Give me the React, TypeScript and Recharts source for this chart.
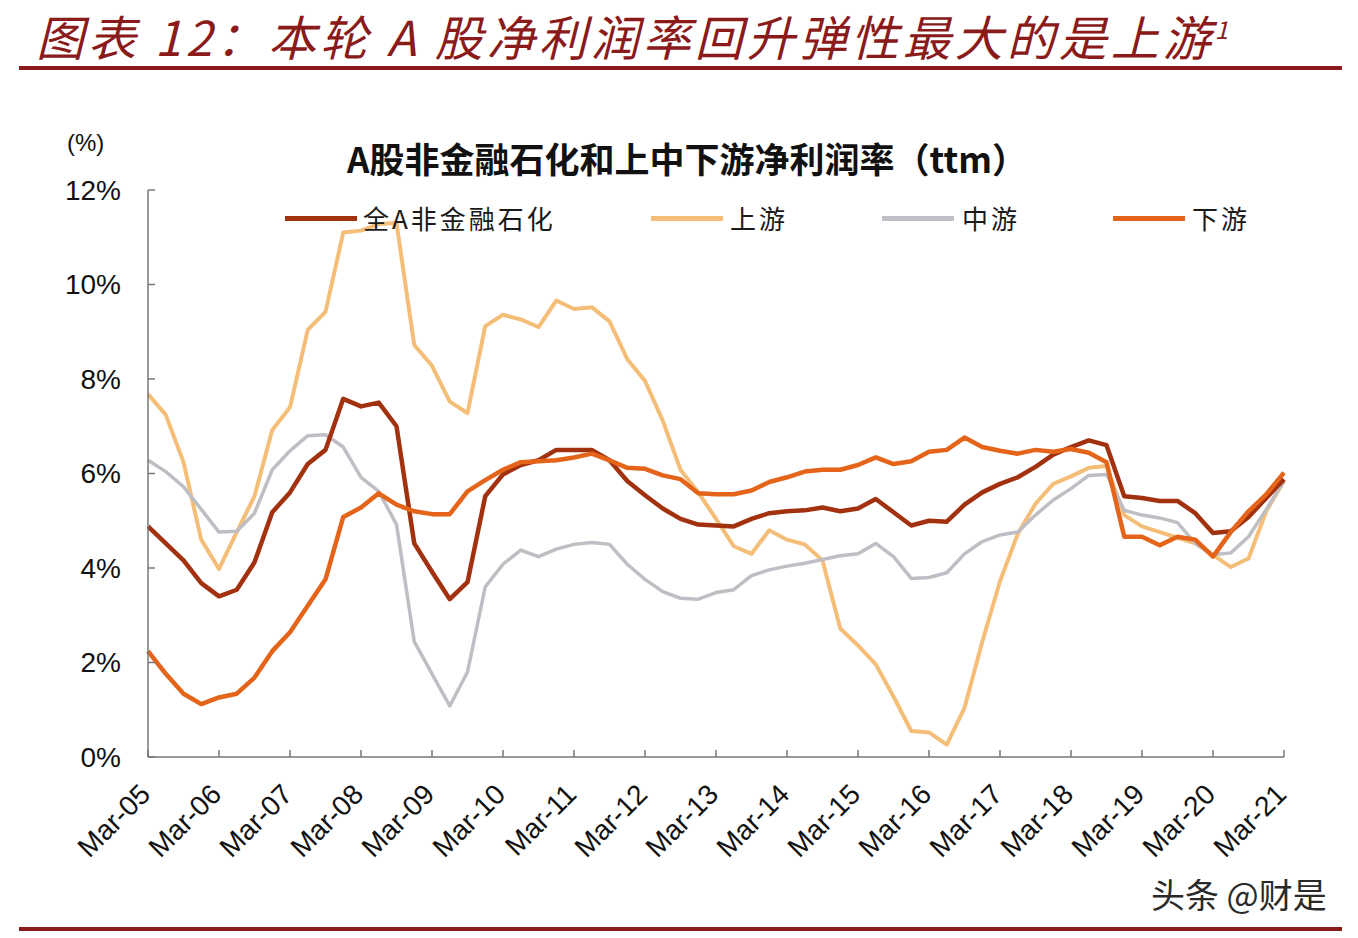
import React from 'react';
import { LineChart, Line, XAxis, YAxis, Legend } from 'recharts';

const YEARS = ['05','06','07','08','09','10','11','12','13','14','15','16','17','18','19','20','21'];
const QUARTERS = ['Mar','Jun','Sep','Dec'];
const CATEGORIES: string[] = YEARS.flatMap((y) => QUARTERS.map((q) => `${q}-${y}`)).slice(0, 65);

const ALL_A = [
  4.88,4.52,4.16,3.68,3.4,3.54,4.12,5.18,5.6,6.2,
  6.5,7.58,7.42,7.5,7.0,4.52,3.92,3.34,3.7,5.52,
  5.98,6.18,6.28,6.5,6.5,
  6.5,6.28,5.84,5.54,5.26,5.04,4.92,4.9,4.88,5.04,
  5.16,5.2,5.22,5.28,5.2,5.26,5.46,5.18,4.9,5.0,
  4.98,5.34,5.6,5.78,
  5.92,6.14,6.4,6.56,6.7,6.6,5.52,5.48,5.42,5.42,
  5.16,4.74,4.78,5.08,5.48,5.88,
];
const UPSTREAM = [
  7.68,7.24,6.24,4.6,3.98,4.76,5.52,6.92,7.4,9.04,
  9.42,11.1,11.14,11.28,11.3,8.72,8.28,7.52,7.28,9.12,
  9.36,9.26,9.1,9.66,9.48,
  9.52,9.22,8.42,7.96,7.12,6.08,5.6,5.04,4.46,4.3,
  4.8,4.6,4.5,4.16,2.72,2.36,1.96,1.28,0.55,0.52,
  0.26,1.04,2.44,3.72,
  4.72,5.36,5.78,5.94,6.12,6.16,5.12,4.88,4.76,4.64,
  4.52,4.28,4.02,4.2,5.2,5.84,
];
const MIDSTREAM = [
  6.28,6.04,5.72,5.24,4.76,4.78,5.16,6.08,6.48,6.8,
  6.82,6.56,5.92,5.62,4.92,2.44,1.76,1.08,1.8,3.6,
  4.08,4.38,4.24,4.4,4.5,
  4.54,4.5,4.08,3.76,3.5,3.36,3.34,3.48,3.54,3.84,
  3.96,4.04,4.1,4.18,4.26,4.3,4.52,4.24,3.78,3.8,
  3.9,4.3,4.56,4.7,
  4.76,5.12,5.44,5.68,5.96,5.98,5.22,5.12,5.06,4.96,
  4.52,4.28,4.32,4.66,5.24,5.84,
];
const DOWNSTREAM = [
  2.24,1.76,1.34,1.12,1.26,1.34,1.68,2.24,2.64,3.2,
  3.76,5.08,5.28,5.58,5.34,5.2,5.14,5.14,5.62,5.86,
  6.08,6.24,6.26,6.28,6.34,
  6.42,6.28,6.12,6.1,5.96,5.88,5.58,5.56,5.56,5.64,
  5.82,5.92,6.04,6.08,6.08,6.18,6.34,6.2,6.26,6.46,
  6.5,6.76,6.56,6.48,
  6.42,6.5,6.46,6.52,6.44,6.24,4.66,4.66,4.48,4.66,
  4.6,4.24,4.76,5.2,5.56,6.02,
];
const Y_TICKS = [0, 2, 4, 6, 8, 10, 12];

const SERIES = [
  { key: 'upstream', name: '上游', color: '#F5BE78', width: 4 },
  { key: 'midstream', name: '中游', color: '#BEBEC4', width: 3.5 },
  { key: 'allA', name: '全A非金融石化', color: '#A2320F', width: 4.5 },
  { key: 'downstream', name: '下游', color: '#E4641A', width: 4.5 },
];
const LEGEND_ORDER = ['allA', 'upstream', 'midstream', 'downstream'];

const data = CATEGORIES.map((date, i) => ({
  date,
  allA: ALL_A[i],
  upstream: UPSTREAM[i],
  midstream: MIDSTREAM[i],
  downstream: DOWNSTREAM[i],
}));

const W = 1358;
const H = 938;
const PLOT_LEFT = 148;
const AXIS_Y = 757;
const LATIN = '"Liberation Sans", Arial, "Noto Sans CJK SC", sans-serif';
const CJK = '"Noto Sans CJK SC", "Liberation Sans", sans-serif';
const DARK_RED = '#8B1A1A';

const YTick = (props: any) => {
  const { y, payload } = props;
  return (
    <g>
      <line x1={PLOT_LEFT} x2={PLOT_LEFT + 7} y1={y} y2={y} stroke="#777" strokeWidth={1.5} />
      <text x={121} y={y} textAnchor="end" dominantBaseline="central" fontFamily={LATIN} fontSize={28} fill="#111">
        {payload.value}%
      </text>
    </g>
  );
};

const XTick = (props: any) => {
  const { x, payload } = props;
  const ax = x + 4;
  const ay = AXIS_Y + 39;
  return (
    <g>
      <line x1={x} x2={x} y1={AXIS_Y} y2={AXIS_Y - 7} stroke="#777" strokeWidth={1.5} />
      <text
        x={ax}
        y={ay}
        textAnchor="end"
        fontFamily={LATIN}
        fontSize={28}
        fill="#111"
        transform={`rotate(-45 ${ax} ${ay})`}
      >
        {payload.value}
      </text>
    </g>
  );
};

const LEGEND_POS: Record<string, { line: number; text: number }> = {
  allA: { line: 285, text: 363 },
  upstream: { line: 651, text: 730 },
  midstream: { line: 882, text: 962 },
  downstream: { line: 1113, text: 1192 },
};

const renderLegend = () => (
  <div style={{ position: 'relative', width: W, height: 30 }}>
    {LEGEND_ORDER.map((k) => {
      const s = SERIES.find((z) => z.key === k)!;
      const p = LEGEND_POS[k];
      return (
        <React.Fragment key={k}>
          <div style={{ position: 'absolute', left: p.line, top: 13, width: 72, height: 5, background: s.color }} />
          <div
            style={{
              position: 'absolute',
              left: p.text,
              top: -3,
              fontFamily: CJK,
              fontSize: 26,
              lineHeight: '36px',
              color: '#1a1a1a',
              whiteSpace: 'nowrap',
              letterSpacing: 3,
            }}
          >
            {s.name}
          </div>
        </React.Fragment>
      );
    })}
  </div>
);

export default function App() {
  return (
    <div style={{ position: 'absolute', left: 0, top: 0, width: W, height: H, background: '#fff' }}>
      <div
        style={{
          position: 'absolute',
          left: 36,
          top: 7,
          fontFamily: CJK,
          fontStyle: 'italic',
          fontSize: 48,
          lineHeight: '56px',
          color: DARK_RED,
          whiteSpace: 'nowrap',
          letterSpacing: 4,
        }}
      >
        图表 12：本轮 A 股净利润率回升弹性最大的是上游<sup style={{ fontSize: 24, lineHeight: '0px' }}>1</sup>
      </div>
      <div style={{ position: 'absolute', left: 19, top: 66, width: 1323, height: 4, background: DARK_RED }} />
      <div style={{ position: 'absolute', left: 19, top: 927, width: 1323, height: 4, background: DARK_RED }} />
      <div
        style={{
          position: 'absolute',
          left: 0,
          width: 1374,
          top: 134,
          textAlign: 'center',
          fontFamily: CJK,
          fontWeight: 700,
          fontSize: 35,
          lineHeight: '48px',
          color: '#111',
          whiteSpace: 'nowrap',
        }}
      >
        A股非金融石化和上中下游净利润率（ttm）
      </div>
      <div
        style={{
          position: 'absolute',
          left: 67,
          top: 128,
          fontFamily: LATIN,
          fontSize: 24,
          lineHeight: '30px',
          color: '#111',
        }}
      >
        (%)
      </div>
      <div
        style={{
          position: 'absolute',
          left: 1151,
          top: 872,
          fontFamily: CJK,
          fontSize: 34,
          lineHeight: '44px',
          color: '#2a2a2a',
          whiteSpace: 'nowrap',
        }}
      >
        头条 @财是
      </div>
      <div style={{ position: 'absolute', left: 0, top: 0 }}>
        <LineChart width={W} height={H} data={data} margin={{ top: 190, right: 74, bottom: 81, left: 60 }}>
          <XAxis
            dataKey="date"
            interval={3}
            height={100}
            tickLine={false}
            axisLine={{ stroke: '#777', strokeWidth: 1.5 }}
            tick={<XTick />}
            padding={{ left: 0, right: 0 }}
          />
          <YAxis
            domain={[0, 12]}
            ticks={Y_TICKS}
            width={88}
            tickLine={false}
            axisLine={{ stroke: '#777', strokeWidth: 1.5 }}
            tick={<YTick />}
            interval={0}
          />
          <Legend
            verticalAlign="middle"
            align="center"
            layout="horizontal"
            content={renderLegend}
            wrapperStyle={{ position: 'absolute', top: 203, left: 0, width: W, height: 30 }}
          />
          {SERIES.map((s) => (
            <Line
              key={s.key}
              type="linear"
              dataKey={s.key}
              name={s.name}
              stroke={s.color}
              strokeWidth={s.width}
              dot={false}
              isAnimationActive={false}
              strokeLinejoin="round"
            />
          ))}
        </LineChart>
      </div>
    </div>
  );
}
